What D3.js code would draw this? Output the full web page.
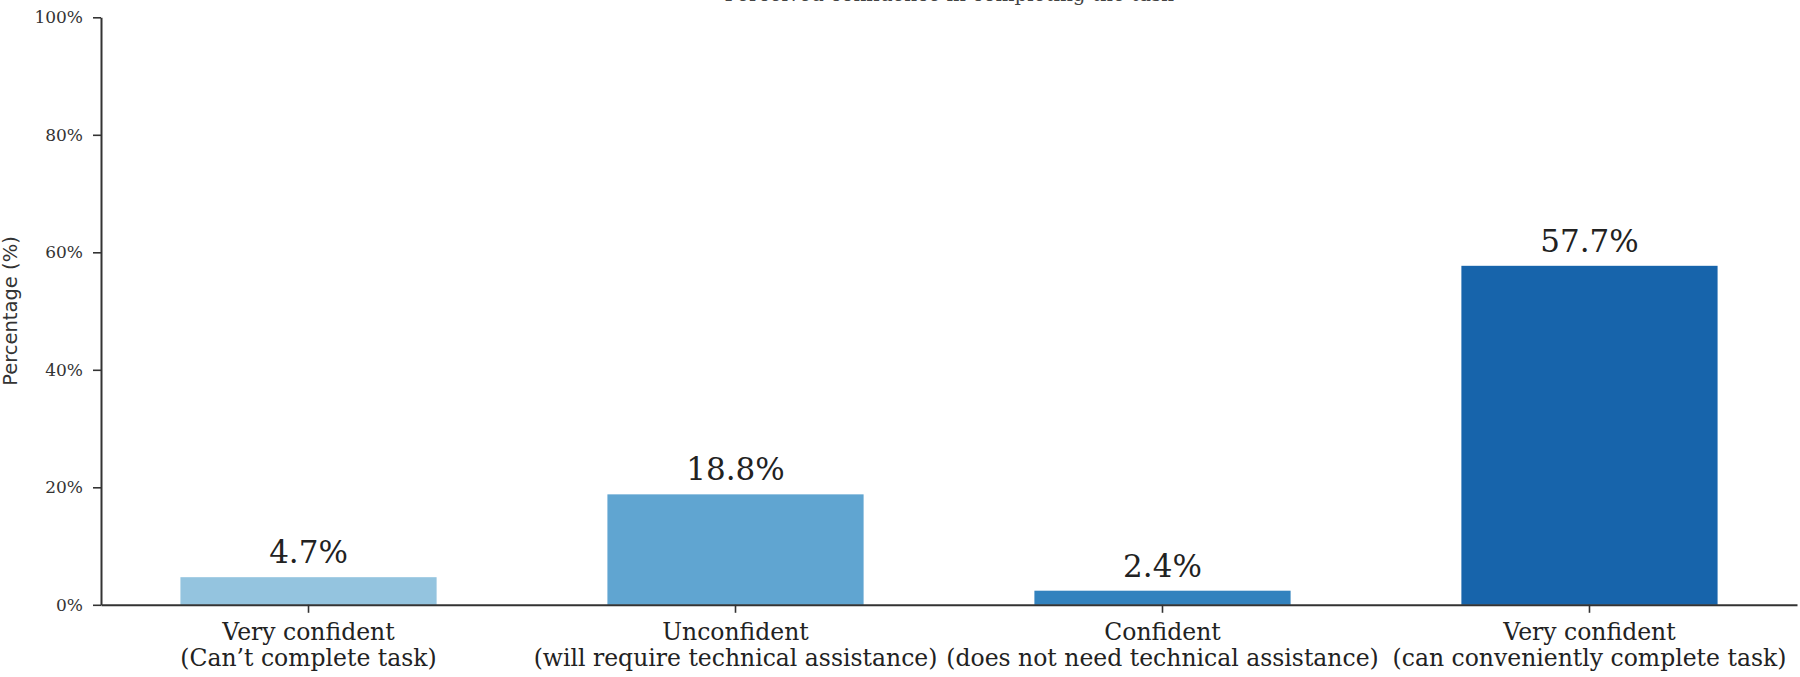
<!DOCTYPE html>
<html>
<head>
<meta charset="utf-8">
<script src="https://cdn.jsdelivr.net/npm/d3@7"></script>
<style>
  html, body { margin: 0; padding: 0; background: #fff; }
  svg { display: block; }
</style>
</head>
<body>
<svg id="chart" width="1800" height="677"></svg>
<script>
const categories = [
  "Very confident\n(Can’t complete task)",
  "Unconfident\n(will require technical assistance)",
  "Confident\n(does not need technical assistance)",
  "Very confident\n(can conveniently complete task)"
];
const values = [4.7, 18.8, 2.4, 57.7];
const barColors = ["#94c4df", "#60a5d1", "#3282be", "#1764ab"];
const yTicks = [0, 20, 40, 60, 80, 100];
const titleText = "Perceived confidence in completing the task";
const yLabel = "Percentage (%)";

const svg = d3.select("#chart");
const plotLeft = 101, plotRight = 1797, plotTop = 17.3, plotBottom = 604.8;

const x = d3.scaleBand().domain(categories).range([plotLeft, plotRight])
  .paddingInner(0.4).paddingOuter(0.186);
const y = d3.scaleLinear().domain([0, 100]).range([plotBottom, plotTop]);

const serif = "DejaVu Serif, serif";
const sans = "DejaVu Sans, sans-serif";

// title (mostly clipped at the top edge, as in the reference)
svg.append("text")
  .attr("x", (plotLeft + plotRight) / 2).attr("y", 1)
  .attr("text-anchor", "middle")
  .attr("font-family", serif).attr("font-size", 20)
  .attr("fill", "#444")
  .text(titleText);

// bars
svg.append("g").selectAll("rect").data(values).join("rect")
  .attr("x", (d, i) => x(categories[i]))
  .attr("width", x.bandwidth())
  .attr("y", d => y(d))
  .attr("height", d => y(0) - y(d))
  .attr("fill", (d, i) => barColors[i]);

// value labels
svg.append("g").selectAll("text").data(values).join("text")
  .attr("x", (d, i) => x(categories[i]) + x.bandwidth() / 2)
  .attr("y", d => y(d) - 14)
  .attr("text-anchor", "middle")
  .attr("font-family", serif).attr("font-size", 31)
  .attr("fill", "#222")
  .text(d => d.toFixed(1) + "%");

// y axis
const yAxis = d3.axisLeft(y).tickValues(yTicks).tickFormat(d => d + "%")
  .tickSize(8).tickPadding(10).tickSizeOuter(0);
const gy = svg.append("g").attr("transform", `translate(${plotLeft},0)`).call(yAxis);
gy.select(".domain").attr("stroke", "#333").attr("stroke-width", 2);
gy.selectAll(".tick line").attr("stroke", "#333").attr("stroke-width", 1.6);
gy.selectAll(".tick text").attr("font-family", serif).attr("font-size", 17).attr("fill", "#333");

// x axis
const xAxis = d3.axisBottom(x).tickSize(8).tickPadding(6).tickSizeOuter(0).tickFormat(() => "");
const gx = svg.append("g").attr("transform", `translate(0,${plotBottom})`).call(xAxis);
gx.select(".domain").attr("stroke", "#333").attr("stroke-width", 2);
gx.selectAll(".tick line").attr("stroke", "#333").attr("stroke-width", 1.6);
gx.selectAll(".tick text").remove();
gx.selectAll(".tick").each(function(d) {
  const lines = d.split("\n");
  const t = d3.select(this).append("text")
    .attr("font-family", serif).attr("font-size", 23.5)
    .attr("fill", "#222").attr("text-anchor", "middle");
  lines.forEach((ln, i) => {
    t.append("tspan").attr("x", 0).attr("y", 35 + i * 26).text(ln);
  });
});

// y label
svg.append("text")
  .attr("transform", `translate(17,${(plotTop + plotBottom) / 2}) rotate(-90)`)
  .attr("text-anchor", "middle")
  .attr("font-family", sans).attr("font-size", 19.5)
  .attr("fill", "#333")
  .text(yLabel);
</script>
</body>
</html>
